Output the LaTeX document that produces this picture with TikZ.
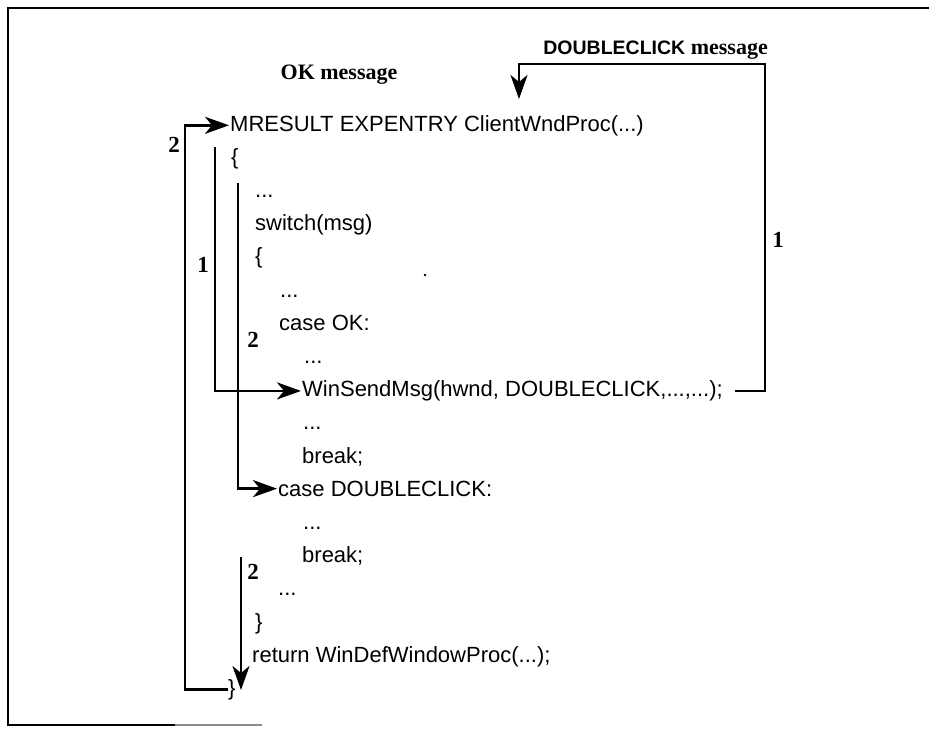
\documentclass[tikz,border=0pt]{standalone}
\usepackage{fontspec}
\setmainfont{Liberation Sans}
\newfontfamily\labserif{Liberation Serif}
\usetikzlibrary{arrows.meta}
\tikzset{
  code/.style={anchor=base west, inner sep=0pt, font=\fontsize{22}{24}\selectfont},
  lab/.style={inner sep=0pt, font=\labserif\bfseries\fontsize{23}{25}\selectfont},
  title/.style={inner sep=0pt, font=\labserif\bfseries\fontsize{22}{24}\selectfont},
  conn/.style={line width=2.8pt, -{Stealth[length=24pt,width=17pt,inset=7pt]}},
  frameline/.style={line width=2pt}
}
\begin{document}
\begin{tikzpicture}[x=1pt,y=-1pt]
\useasboundingbox (0,0) rectangle (929,729);
% frame
\draw[frameline] (929,8) -- (8,8) -- (8,725) -- (175,725);
\draw[frameline, black!45] (175,725) -- (262,725);
% code lines
\node[code] (mresult) at (230,131) {MRESULT EXPENTRY ClientWndProc(...)};
\node[code] (open1) at (231,164.2) {\{};
\node[code] (dots1) at (255,197.4) {...};
\node[code] (switch) at (255,230.6) {switch(msg)};
\node[code] (open2) at (255,263.8) {\{};
\node[code] (dots2) at (280,297) {...};
\node[code] (caseok) at (279,330.2) {case OK:};
\node[code] (dots3) at (304,363.4) {...};
\node[code] (send) at (302,396.6) {WinSendMsg(hwnd, DOUBLECLICK,...,...);};
\node[code] (dots4) at (303,429.8) {...};
\node[code] (break1) at (302,463) {break;};
\node[code] (casedc) at (278,496.2) {case DOUBLECLICK:};
\node[code] (dots5) at (303,529.4) {...};
\node[code] (break2) at (302,562.6) {break;};
\node[code] (dots6) at (278,595.8) {...};
\node[code] (close2) at (255,629) {\}};
\node[code] (ret) at (252,662.2) {return WinDefWindowProc(...);};
\node[code] (close1) at (228,695.4) {\}};
% titles
\node[title, anchor=base] (okmsg) at (339,79) {OK message};
\node[title, anchor=base east] (dcmsg) at (768,54) {{\fontspec{Liberation Sans}\bfseries\fontsize{19.5}{21}\selectfont DOUBLECLICK} message};
% labels
\node[lab] (n2a) at (174,145) {2};
\node[lab] (n1a) at (203,265) {1};
\node[lab] (n2b) at (253,340) {2};
\node[lab] (n2c) at (253,572) {2};
\node[lab] (n1b) at (778,240) {1};
% coordinates
\coordinate (outx) at (185,0);
\coordinate (l1top) at (215,147);
\coordinate (l2top) at (238,183);
\coordinate (l3top) at (241,557);
\coordinate (l3tip) at (241,690);
\coordinate (dcr) at (765,64);
\coordinate (dctip) at (519,99);
% connectors
\draw[conn] (close1.west) -- (close1.west -| outx) |- ([xshift=-1pt]mresult.west);
\draw[conn] (l1top) |- ([xshift=-1pt]send.west);
\draw[conn] (l2top) |- ([xshift=-1pt]casedc.west);
\draw[conn] (l3top) -- (l3tip);
\draw[conn] ([xshift=12pt]send.east) -| (dcr) -| (dctip);
% stray dot
\fill (425,275) circle (1.3);
\end{tikzpicture}
\end{document}
